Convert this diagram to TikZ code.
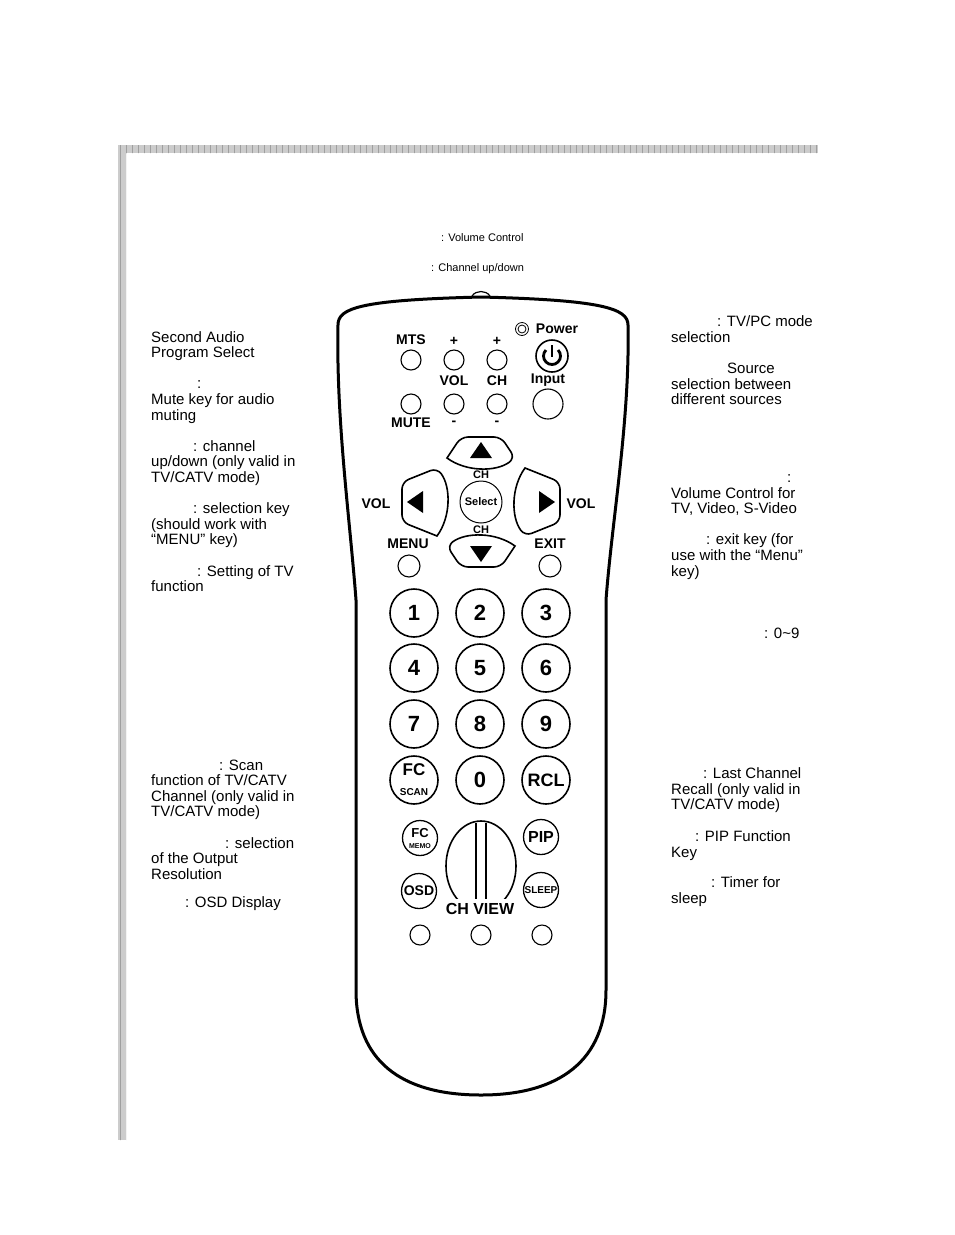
\documentclass[tikz,border=0pt]{standalone}
\usepackage{fontspec}
\setmainfont{Liberation Sans}
\usetikzlibrary{shapes.geometric}
\begin{document}
\begin{tikzpicture}[x=1pt,y=-1pt,
  txt/.style={anchor=base west,inner sep=0pt,font=\fontsize{15}{16}\selectfont,yshift=-5pt},
  small/.style={anchor=west,inner sep=0pt,font=\fontsize{11}{12}\selectfont},
  btn/.style={draw,line width=1.1pt,circle,inner sep=0pt,minimum size=20pt},
  big/.style={draw,line width=1.6pt,circle,inner sep=0pt,minimum size=48pt,font=\fontsize{22}{22}\selectfont\bfseries},
  mid/.style={draw,line width=1.3pt,circle,inner sep=0pt,minimum size=35pt,font=\fontsize{14}{14}\selectfont\bfseries},
  lab/.style={inner sep=0pt,font=\fontsize{14}{14}\selectfont\bfseries},
  key/.style={draw,line width=1.6pt,rounded corners=7pt}]
\useasboundingbox (0,0) rectangle (954,1235);
% border
\fill[gray!40] (118,145) rectangle (818,153);
\fill[gray!40] (118,145) rectangle (126,1140);
\begin{scope}
\clip (118,145) rectangle (818,153) (118,145) rectangle (126,1140);
\draw[gray!75,line width=0.4pt,step=6] (118,140) grid (820,1142);
\end{scope}
% small top texts
\node[small] (t1) at (441,238) {: Volume Control};
\node[small] (t2) at (431,269) {: Channel up/down};
% remote outline
\draw[line width=3pt] (338,325) .. controls (338,308) and (360,300) .. (481,297)
  .. controls (600,300) and (628,308) .. (628,325)
  .. controls (630,420) and (612,520) .. (606,600)
  -- (606,990) .. controls (606,1060) and (560,1095) .. (481,1095)
  .. controls (400,1095) and (356,1060) .. (356,990)
  -- (356,600) .. controls (350,520) and (336,420) .. (338,325);
\draw[line width=1.2pt] (472,296) .. controls (476,290) and (486,290) .. (490,296);
% top buttons
\node[lab] (lmts) at (411,340) {MTS};
\node[lab] (lvp) at (454,341) {+};
\node[lab] (lcp) at (497,341) {+};
\node[btn] (bmts) at (411,360) {};
\node[btn] (bvp) at (454,360) {};
\node[btn] (bcp) at (497,360) {};
\node[draw,circle,line width=0.8pt,minimum size=13pt,inner sep=0pt] (pw0) at (522,329) {};
\node[draw,circle,line width=0.8pt,minimum size=8pt,inner sep=0pt] (pw1) at (522,329) {};
\node[lab] (lpw) at (557,329) {Power};
\node[draw,circle,line width=1.6pt,minimum size=32pt,inner sep=0pt] (bpw) at (552,356) {};
\draw[line width=2.8pt] (546,350) arc[start angle=225,end angle=-45,radius=8.5];
\draw[line width=2.8pt] (552,345) -- (552,357);
\node[lab] (lvol) at (454,381) {VOL};
\node[lab] (lch) at (497,381) {CH};
\node[lab] (lin) at (548,380) {Input};
\node[btn] (bmute) at (411,404) {};
\node[btn] (bvm) at (454,404) {};
\node[btn] (bcm) at (497,404) {};
\node[btn,minimum size=30pt] (binput) at (548,404) {};
\node[lab] (lmute) at (411,423) {MUTE};
\node[lab] (lvm) at (454,423) {-};
\node[lab] (lcm) at (497,423) {-};
% d-pad
\foreach \r/\o in {0/65,90/79,180/65,270/79}{
  \begin{scope}[shift={(481,502)},rotate=\r]
  \draw[key] (-34,-44) -- (-20,-\o) -- (20,-\o) -- (34,-44) [sharp corners] .. controls (15,-30) and (-15,-30) .. (-34,-44) -- cycle;
  \fill (0,-\o+5) -- (11,-\o+21) -- (-11,-\o+21) -- cycle;
  \end{scope}}
\node[draw,circle,line width=1pt,minimum size=42pt,inner sep=0pt,font=\fontsize{11}{11}\selectfont\bfseries] (sel) at (481,502) {Select};
\node[lab,font=\fontsize{11}{11}\selectfont\bfseries] (lchu) at (481,475) {CH};
\node[lab,font=\fontsize{11}{11}\selectfont\bfseries] (lchd) at (481,530) {CH};
\node[lab] (lvl) at (376,504) {VOL};
\node[lab] (lvr) at (581,504) {VOL};
\node[lab] (lmenu) at (408,544) {MENU};
\node[lab] (lexit) at (550,544) {EXIT};
\node[btn,minimum size=22pt] (bmenu) at (409,566) {};
\node[btn,minimum size=22pt] (bexit) at (550,566) {};
% number keys
\node[big] (n1) at (414,613) {1};
\node[big] (n2) at (480,613) {2};
\node[big] (n3) at (546,613) {3};
\node[big] (n4) at (414,668) {4};
\node[big] (n5) at (480,668) {5};
\node[big] (n6) at (546,668) {6};
\node[big] (n7) at (414,724) {7};
\node[big] (n8) at (480,724) {8};
\node[big] (n9) at (546,724) {9};
\node[big,align=center] (fc) at (414,780) {\fontsize{17}{14}\selectfont FC\\[-2pt]\fontsize{10}{10}\selectfont SCAN};
\node[big] (n0) at (480,780) {0};
\node[big,font=\fontsize{18}{18}\selectfont\bfseries] (rcl) at (546,780) {RCL};
\node[mid,align=center] (fcm) at (420,838) {\fontsize{13}{11}\selectfont FC\\[-3pt]\fontsize{7}{7}\selectfont MEMO};
\node[mid,font=\fontsize{16}{16}\selectfont\bfseries] (pip) at (541,837) {PIP};
\node[draw,line width=1.6pt,ellipse,minimum width=70pt,minimum height=90pt,inner sep=0pt] (chv) at (481,866) {};
\draw[line width=1.2pt] (476,823) -- (476,909) (486,823) -- (486,909);
\node[mid] (osd) at (419,891) {OSD};
\node[mid,font=\fontsize{10}{10}\selectfont\bfseries] (slp) at (541,890) {SLEEP};
\fill[white] (446,899) rectangle (516,919);
\node[lab,font=\fontsize{16}{16}\selectfont\bfseries] (lchv) at (480,909) {CH VIEW};
\node[btn] (c1) at (420,935) {};
\node[btn] (c2) at (481,935) {};
\node[btn] (c3) at (542,935) {};
% left texts
\node[txt] (a1) at (151,337) {Second Audio};
\node[txt] (a2) at (151,352) {Program Select};
\node[txt] (b0) at (197,383) {:};
\node[txt] (b1) at (151,399) {Mute key for audio};
\node[txt] (b2) at (151,415) {muting};
\node[txt] (c0) at (193,446) {: channel};
\node[txt] (c1t) at (151,461) {up/down (only valid in};
\node[txt] (c2t) at (151,477) {TV/CATV mode)};
\node[txt] (d0) at (193,508) {: selection key};
\node[txt] (d1) at (151,524) {(should work with};
\node[txt] (d2) at (151,539) {“MENU” key)};
\node[txt] (e0) at (197,571) {: Setting of TV};
\node[txt] (e1) at (151,586) {function};
\node[txt] (f0) at (219,765) {: Scan};
\node[txt] (f1) at (151,780) {function of TV/CATV};
\node[txt] (f2) at (151,796) {Channel (only valid in};
\node[txt] (f3) at (151,811) {TV/CATV mode)};
\node[txt] (g0) at (225,843) {: selection};
\node[txt] (g1) at (151,858) {of the Output};
\node[txt] (g2) at (151,874) {Resolution};
\node[txt] (h0) at (185,902) {: OSD Display};
% right texts
\node[txt] (r1) at (717,321) {: TV/PC mode};
\node[txt] (r2) at (671,337) {selection};
\node[txt] (s0) at (727,368) {Source};
\node[txt] (s1) at (671,384) {selection between};
\node[txt] (s2) at (671,399) {different sources};
\node[txt] (u0) at (787,477) {:};
\node[txt] (u1) at (671,493) {Volume Control for};
\node[txt] (u2) at (671,508) {TV, Video, S-Video};
\node[txt] (v0) at (706,539) {: exit key (for};
\node[txt] (v1) at (671,555) {use with the “Menu”};
\node[txt] (v2) at (671,571) {key)};
\node[txt] (w0) at (764,633) {: 0\char`~9};
\node[txt] (x0) at (703,773) {: Last Channel};
\node[txt] (x1) at (671,789) {Recall (only valid in};
\node[txt] (x2) at (671,804) {TV/CATV mode)};
\node[txt] (y0) at (695,836) {: PIP Function};
\node[txt] (y1) at (671,852) {Key};
\node[txt] (z0) at (711,882) {: Timer for};
\node[txt] (z1) at (671,898) {sleep};
\end{tikzpicture}
\end{document}
